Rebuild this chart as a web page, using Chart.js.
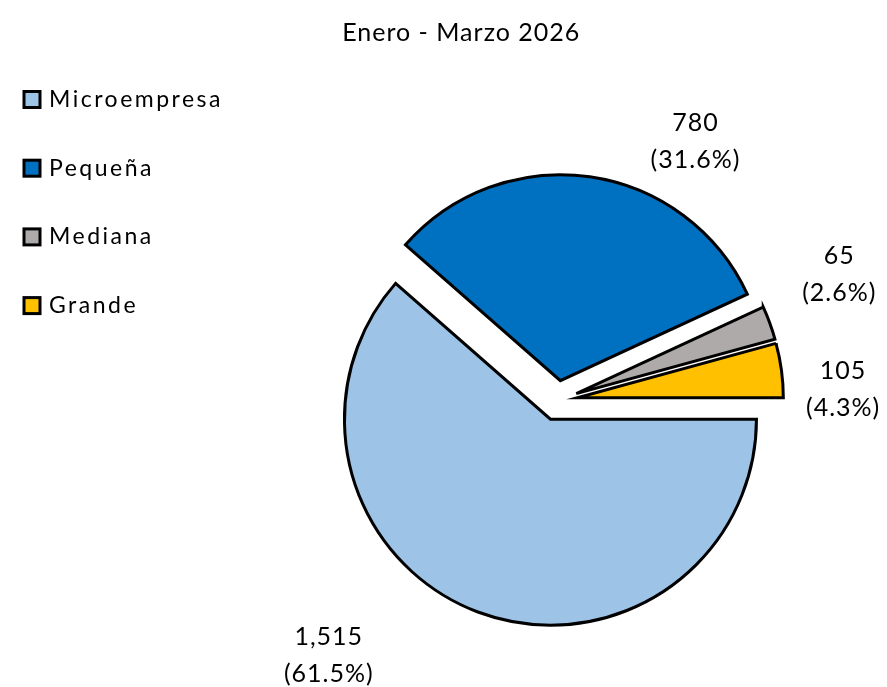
<!DOCTYPE html>
<html>
<head>
<meta charset="utf-8">
<script src="https://cdn.jsdelivr.net/npm/chart.js@4.4.1/dist/chart.umd.min.js"></script>
<style>
  html, body { margin: 0; padding: 0; background: #fff; }
  canvas { display: block; }
</style>
</head>
<body>
<canvas id="grafico" width="887" height="687"></canvas>
<script>
// datos del periodo
const titulo = 'Enero - Marzo 2026';
const categorias = ['Microempresa', 'Pequeña', 'Mediana', 'Grande'];
const valores = [1515, 780, 65, 105];
const colores = ['#9DC3E6', '#0070C0', '#AEAAAA', '#FFC000'];

// separacion de las porciones y ajuste de etiquetas (px)
const separacion = 20;
const ajusteEtiqueta = [[-135, 5], [100, 4], [32, -35], [22, 24]];

const total = valores.reduce((a, b) => a + b, 0);
const fuente = 'Lato, "Open Sans", sans-serif';

// dibuja cada porcion desplazada hacia afuera
const separar = {
  id: 'separar',
  beforeDatasetDraw(chart, args) {
    const ctx = chart.ctx;
    args.meta.data.forEach(arc => {
      const mid = (arc.startAngle + arc.endAngle) / 2;
      ctx.save();
      ctx.translate(Math.cos(mid) * separacion, Math.sin(mid) * separacion);
      arc.draw(ctx);
      ctx.restore();
    });
    return false;
  }
};

// titulo, leyenda y etiquetas de datos
const textos = {
  id: 'textos',
  afterDatasetsDraw(chart) {
    const ctx = chart.ctx;
    const meta = chart.getDatasetMeta(0);
    ctx.save();
    ctx.fillStyle = '#000';
    ctx.textBaseline = 'middle';

    ctx.font = '25px ' + fuente;
    ctx.letterSpacing = '1px';
    ctx.textAlign = 'center';
    ctx.fillText(titulo, chart.width * 0.52, 33);

    meta.data.forEach((arc, i) => {
      const mid = (arc.startAngle + arc.endAngle) / 2;
      const r = arc.outerRadius + separacion + 40;
      const x = arc.x + Math.cos(mid) * r + ajusteEtiqueta[i][0];
      const y = arc.y + Math.sin(mid) * r + ajusteEtiqueta[i][1];
      const v = valores[i];
      ctx.fillText(v.toLocaleString('en-US'), x, y - 18);
      ctx.fillText('(' + (v / total * 100).toFixed(1) + '%)', x, y + 19);
    });

    // leyenda
    ctx.font = '23px ' + fuente;
    ctx.letterSpacing = '2.5px';
    ctx.textAlign = 'left';
    ctx.lineWidth = 3;
    ctx.lineJoin = 'miter';
    ctx.strokeStyle = '#000';
    categorias.forEach((nombre, i) => {
      const cy = 99.5 + i * 68.7;
      ctx.fillStyle = colores[i];
      ctx.fillRect(24, cy - 8, 16, 16);
      ctx.strokeRect(24, cy - 8, 16, 16);
      ctx.fillStyle = '#000';
      ctx.fillText(nombre, 49, cy);
    });
    ctx.restore();
  }
};

new Chart(document.getElementById('grafico'), {
  type: 'pie',
  data: {
    labels: categorias,
    datasets: [{
      data: valores,
      backgroundColor: colores,
      borderColor: '#000',
      borderWidth: 3,
      borderJoinStyle: 'miter'
    }]
  },
  options: {
    responsive: false,
    animation: false,
    events: [],
    rotation: 90,
    radius: 206,
    layout: { padding: { left: 228, top: 114, right: 0, bottom: 0 } },
    plugins: {
      title: { display: false },
      tooltip: { enabled: false },
      legend: { display: false }
    }
  },
  plugins: [separar, textos]
});
</script>
</body>
</html>
